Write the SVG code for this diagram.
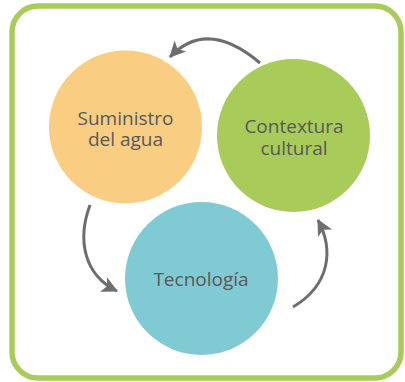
<svg xmlns="http://www.w3.org/2000/svg" width="405" height="382" viewBox="0 0 405 382">
  <style>
    .frame { fill: #ffffff; stroke: #a9cb59; stroke-width: 5.5; }
    .label { font-family: "Open Sans", "Liberation Sans", sans-serif; font-size: 19px; fill: #58595b; text-anchor: middle; }
    .link { fill: none; stroke: #6d6e71; stroke-width: 3; marker-end: url(#head); }
  </style>
  <defs>
    <marker id="head" markerUnits="userSpaceOnUse" markerWidth="20" markerHeight="20" viewBox="-2 -10 20 20" refX="15" refY="0" orient="auto">
      <path d="M0,-8 L16,0 L0,8 L4,0 Z" fill="#6d6e71"/>
    </marker>
  </defs>

  <rect class="frame" x="12" y="6" width="389" height="372" rx="26" ry="26"/>

  <g id="suministro">
    <circle cx="125.5" cy="127" r="76.5" fill="#f9cd82"/>
    <text class="label" x="125.5" y="125">Suministro</text>
    <text class="label" x="125.5" y="146">del agua</text>
  </g>

  <g id="contextura">
    <circle cx="293.5" cy="135.5" r="76.5" fill="#a9cb59"/>
    <text class="label" x="294" y="133">Contextura</text>
    <text class="label" x="294" y="155">cultural</text>
  </g>

  <g id="tecnologia">
    <circle cx="201.5" cy="278.5" r="76.5" fill="#80cad3"/>
    <text class="label" x="201" y="286">Tecnología</text>
  </g>

  <g id="connectors">
    <path class="link" d="M260,63 Q207,18 170,57"/>
    <path class="link" d="M90,205 C77,240 84,275 117,291"/>
    <path class="link" d="M293,307 C330,285 334,250 318,220"/>
  </g>
</svg>
